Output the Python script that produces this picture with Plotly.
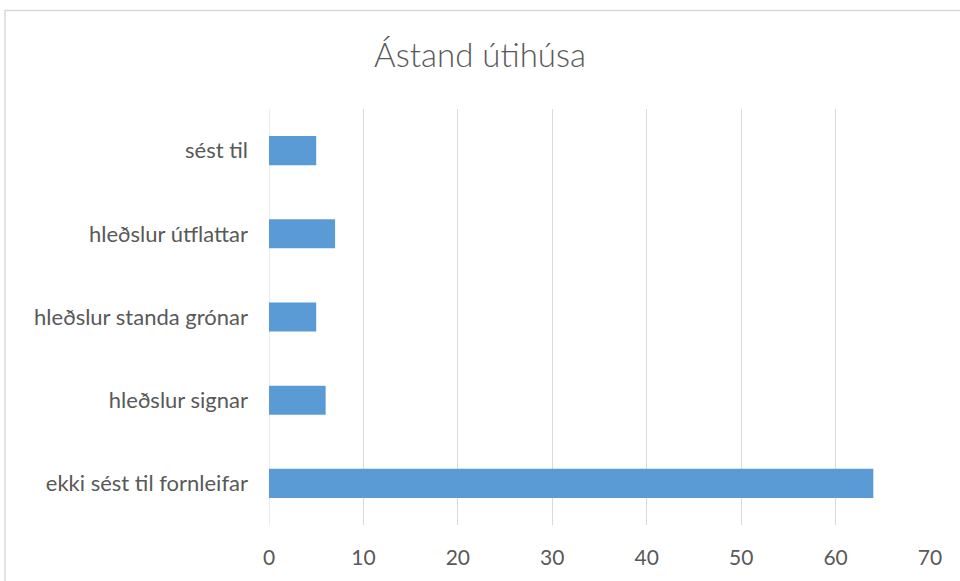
import plotly.graph_objects as go

# Condition of outbuildings: count per category
categories = [
    "sést til",
    "hleðslur útflattar",
    "hleðslur standa grónar",
    "hleðslur signar",
    "ekki sést til fornleifar",
]
counts = [5, 7, 5, 6, 64]
x_ticks = [0, 10, 20, 30, 40, 50, 60, 70]

fig = go.Figure(
    go.Bar(
        y=categories,
        x=counts,
        orientation="h",
        marker=dict(color="#5b9bd5", line=dict(width=0)),
        hoverinfo="x+y",
    )
)

fig.update_layout(
    width=960,
    height=581,
    margin=dict(l=269, r=30, t=109, b=54),
    paper_bgcolor="white",
    plot_bgcolor="white",
    bargap=0.65,
    showlegend=False,
    font=dict(family="Lato, 'Open Sans', sans-serif", color="#595959"),
    title=dict(
        text="Ástand útihúsa",
        x=0.5,
        xanchor="center",
        y=1 - 55 / 581,
        yanchor="middle",
        font=dict(size=33, color="#595959", weight=300),
    ),
    xaxis=dict(
        range=[0, 70],
        tickvals=x_ticks,
        showgrid=True,
        gridcolor="#d9d9d9",
        gridwidth=1,
        zeroline=False,
        showline=False,
        ticks="",
        ticklabelstandoff=18,
        tickfont=dict(size=21, color="#595959"),
        fixedrange=True,
    ),
    yaxis=dict(
        categoryorder="array",
        categoryarray=categories[::-1],
        showgrid=False,
        zeroline=False,
        showline=False,
        ticks="",
        ticklabelstandoff=20,
        tickfont=dict(size=22, color="#595959"),
        fixedrange=True,
    ),
    shapes=[
        # chart-area border
        dict(
            type="rect",
            xref="paper",
            yref="paper",
            x0=(5 - 269) / 661,
            x1=2,
            y0=-1,
            y1=(527 - 10) / 418,
            line=dict(color="#d9d9d9", width=1.5),
            fillcolor="rgba(0,0,0,0)",
            layer="below",
        ),
        # left-edge gridline at zero
        dict(
            type="line",
            xref="x",
            yref="paper",
            x0=0,
            x1=0,
            y0=0,
            y1=1,
            line=dict(color="#d9d9d9", width=1),
            layer="below",
        ),
    ],
)

fig.write_html("out.html")
